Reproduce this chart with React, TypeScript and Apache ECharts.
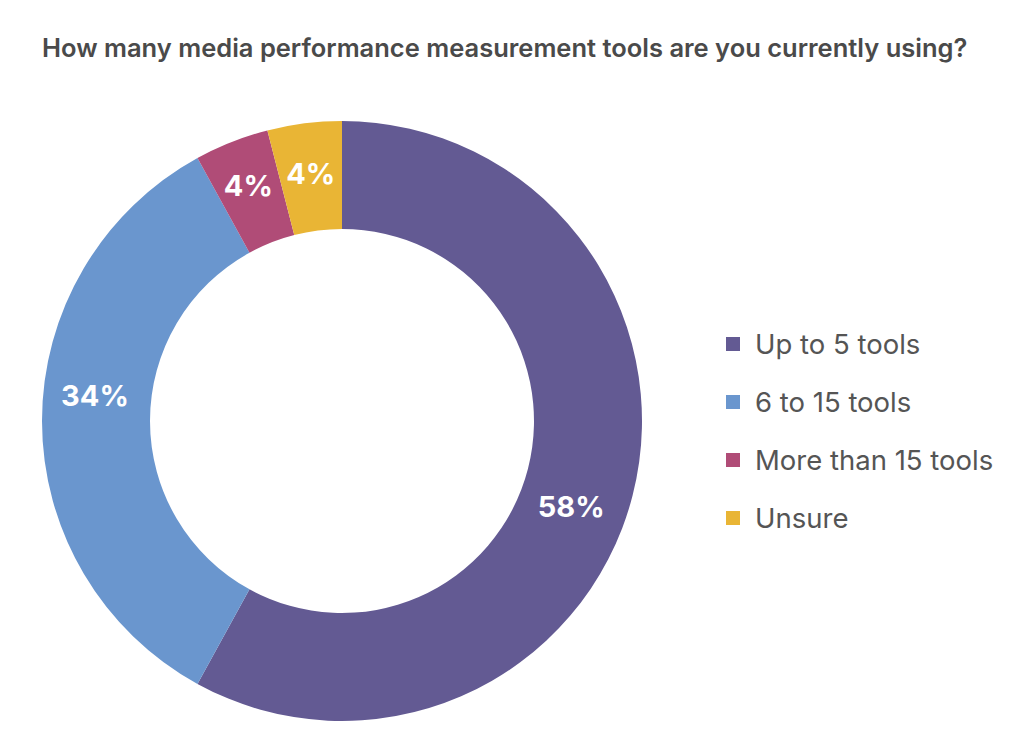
import * as echarts from 'echarts';
import React, { useEffect, useRef } from 'react';

const categories = ['Up to 5 tools', '6 to 15 tools', 'More than 15 tools', 'Unsure'];
const shares = [58, 34, 4, 4];
const colors = ['#635a93', '#6a96ce', '#b04c77', '#e9b535'];

const title = 'How many media performance measurement tools are you currently using?';

const App: React.FC = () => {
  const chartRef = useRef<HTMLDivElement>(null);

  useEffect(() => {
    if (!chartRef.current) return;
    document.body.style.margin = '0';

    const chart = echarts.init(chartRef.current, undefined, { renderer: 'svg' });

    // label nudges so they sit like in the original
    const labelOffsets: [number, number][] = [[-12, 24], [2, -26], [-2, -4], [0, 0]];

    const option: echarts.EChartsOption = {
      animation: false,
      title: {
        text: title,
        left: 37,
        top: 29,
        textStyle: {
          color: '#4a4a4a',
          fontSize: 25.5,
          fontWeight: 600,
          fontFamily: 'Inter, sans-serif',
        },
      },
      legend: {
        orient: 'vertical',
        left: 721,
        top: 325,
        icon: 'rect',
        itemWidth: 14,
        itemHeight: 14,
        itemGap: 30,
        data: categories,
        textStyle: {
          color: '#555',
          fontSize: 27.5,
          lineHeight: 27,
          fontFamily: 'Inter, sans-serif',
          padding: [0, 0, 0, 10],
        },
      },
      series: [
        {
          type: 'pie',
          center: [342, 421],
          radius: [192, 300],
          startAngle: 90,
          clockwise: true,
          avoidLabelOverlap: false,
          label: {
            show: true,
            position: 'inside',
            formatter: '{c}%',
            color: '#fff',
            fontSize: 29,
            fontWeight: 'bold',
            fontFamily: 'Inter, sans-serif',
          },
          labelLine: { show: false },
          emphasis: { disabled: true },
          data: categories.map((name, i) => ({
            name,
            value: shares[i],
            itemStyle: { color: colors[i] },
            label: { offset: labelOffsets[i] },
          })),
        },
      ],
    };

    chart.setOption(option);

    return () => {
      chart.dispose();
    };
  }, []);

  return <div ref={chartRef} style={{ width: '1024px', height: '739px' }} />;
};

export default App;
